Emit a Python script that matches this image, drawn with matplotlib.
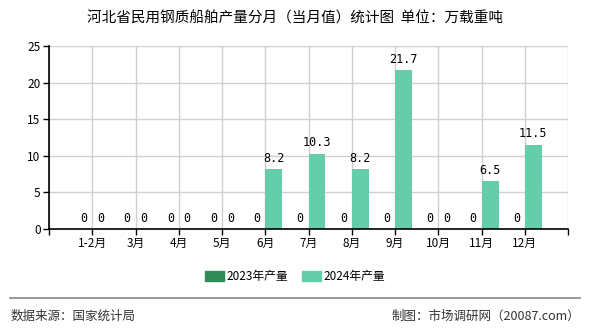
import numpy as np
import matplotlib.pyplot as plt
from matplotlib.lines import Line2D

plt.rcParams['font.family'] = ['Noto Sans CJK SC', 'DejaVu Sans']

# data
months = ['1-2月', '3月', '4月', '5月', '6月', '7月', '8月', '9月', '10月', '11月', '12月']
prod_2023 = [0, 0, 0, 0, 0, 0, 0, 0, 0, 0, 0]
prod_2024 = [0, 0, 0, 0, 8.2, 10.3, 8.2, 21.7, 0, 6.5, 11.5]

c2023 = '#2e8b57'
c2024 = '#66cdaa'

fig = plt.figure(figsize=(5.9, 3.3), dpi=100)
ax = fig.add_axes([0.083, 0.306, 0.880, 0.555])

x = np.arange(len(months))
w = 0.39
b1 = ax.bar(x - w / 2, prod_2023, w, color=c2023, zorder=3)
b2 = ax.bar(x + w / 2, prod_2024, w, color=c2024, zorder=3)

for bars, vals in ((b1, prod_2023), (b2, prod_2024)):
    for r, v in zip(bars, vals):
        ax.text(r.get_x() + r.get_width() / 2, v + 0.6, f'{v:g}',
                ha='center', va='bottom', fontsize=8.5, family='DejaVu Sans Mono')

ax.set_xlim(-1, 11)
ax.set_ylim(0, 25)
ax.set_yticks([0, 5, 10, 15, 20, 25])
ax.set_xticks(np.arange(-1, 12))
ax.set_xticklabels([''] + months + [''])
ax.tick_params(axis='both', labelsize=8.5, length=4, width=1, color='black', pad=2)
ax.grid(True, color='#d0d0d0', linewidth=1, zorder=0)
for s in ['top', 'right']:
    ax.spines[s].set_visible(False)
for s in ['left', 'bottom']:
    ax.spines[s].set_linewidth(1.2)
    ax.spines[s].set_zorder(4)

fig.text(0.5, 0.945, '河北省民用钢质船舶产量分月（当月值）统计图  单位：万载重吨',
         ha='center', va='center', fontsize=10.5)

handles = [plt.Rectangle((0, 0), 1, 1, color=c2023), plt.Rectangle((0, 0), 1, 1, color=c2024)]
fig.legend(handles, ['2023年产量', '2024年产量'], loc='center', bbox_to_anchor=(0.5, 0.162),
           ncol=2, frameon=False, fontsize=8.5, handlelength=1.6, handleheight=0.9,
           columnspacing=1.2, handletextpad=0.2)

fig.add_artist(Line2D([0.017, 0.983], [0.097, 0.097], color='#888888', linewidth=1.2))
fig.text(0.017, 0.042, '数据来源：国家统计局', ha='left', va='center', fontsize=9, color='#333333')
fig.text(0.983, 0.042, '制图：市场调研网（20087.com）', ha='right', va='center', fontsize=9, color='#333333')

fig.savefig('out.png', dpi=100)
